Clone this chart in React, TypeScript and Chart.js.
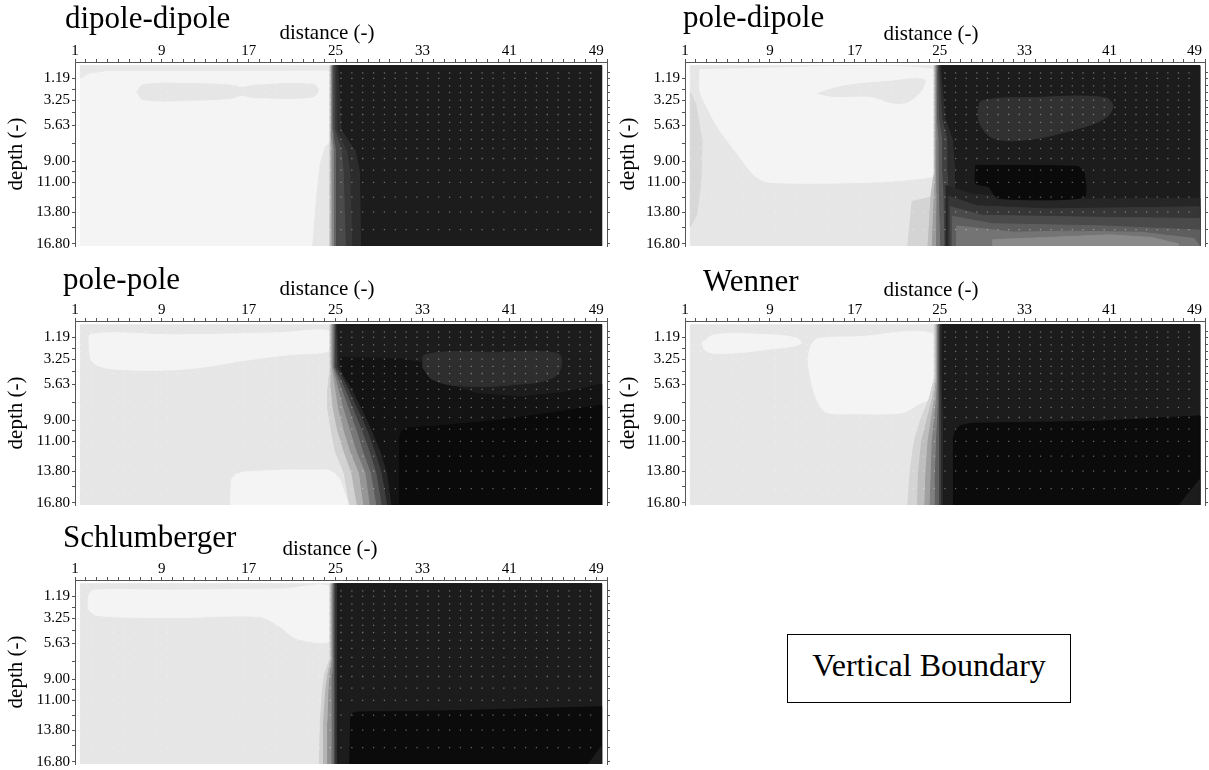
import React, { useEffect, useRef } from 'react';
import { Chart, registerables } from 'chart.js';

Chart.register(...registerables);

const SERIF = '"Liberation Serif", "Times New Roman", Times, serif';
Chart.defaults.font.family = SERIF;

// ---------- axes ----------
const xTickLabels = [1, 9, 17, 25, 33, 41, 49];
const depthTickLabels = [1.19, 3.25, 5.63, 9.0, 11.0, 13.8, 16.8];
const dataRowDepths = [0.68, 1.19, 1.9, 2.52, 3.25, 3.93, 4.6, 5.35, 6.1, 6.95, 7.8, 8.75, 9.85, 11.0, 12.4, 13.8, 15.45];
const dataColumnDistances = [
  1.5, 2.5, 3.5, 4.5, 5.5, 6.5, 7.5, 8.5, 9.5, 10.5, 11.5, 12.5, 13.5, 14.5, 15.5, 16.5,
  17.5, 18.5, 19.5, 20.5, 21.5, 22.5, 23.5, 24.5, 25.5, 26.5, 27.5, 28.5, 29.5, 30.5, 31.5, 32.5,
  33.5, 34.5, 35.5, 36.5, 37.5, 38.5, 39.5, 40.5, 41.5, 42.5, 43.5, 44.5, 45.5, 46.5, 47.5, 48.5,
];
const sectionExtent = [[1.5, 0], [49.5, 0], [49.5, 17], [1.5, 17]];

type Layer = { c: string; p: number[][]; t?: number };
type Band = { c: string; x: number[] };

// ---------- dipole-dipole ----------
const ddRegions: Layer[] = [
  { c: '#f4f4f4', p: sectionExtent },
  { c: '#e8e8e8', p: [[1.5, 0], [24.6, 0], [24.6, 0.4], [4, 0.45], [2.3, 0.7], [1.5, 1.2]] },
  { c: '#e6e6e6', t: 0.4, p: [[6.7, 2.5], [7.3, 1.8], [12, 1.7], [15.5, 1.85], [16.3, 2.05], [17.5, 1.85], [22.8, 1.75], [23.4, 2.3], [22.8, 2.95], [17.5, 3.0], [16.3, 2.8], [15.5, 3.05], [12, 3.25], [7.3, 3.2]] },
  { c: '#e6e6e6', p: [[24.6, 7.2], [24.1, 7.6], [23.6, 9.2], [23.3, 12], [22.9, 17], [24.6, 17]] },
];
const ddBandDepths = [0, 6, 7, 8, 10, 17];
const ddBands: Band[] = [
  { c: '#b4b4b4', x: [24.55, 24.55, 24.5, 24.5, 24.5, 24.5] },
  { c: '#8a8a8a', x: [24.65, 24.65, 24.65, 24.7, 24.7, 24.7] },
  { c: '#666666', x: [24.75, 24.75, 24.8, 24.9, 24.9, 24.9] },
  { c: '#4a4a4a', x: [24.85, 24.85, 24.95, 25.1, 25.1, 25.1] },
  { c: '#383838', x: [24.95, 25.0, 25.3, 25.6, 25.8, 26.0] },
  { c: '#2c2c2c', x: [25.1, 25.2, 25.6, 26.1, 26.4, 26.6] },
  { c: '#1c1c1c', x: [25.3, 25.6, 26.2, 26.9, 27.3, 27.4] },
];
const ddOver: Layer[] = [];

// ---------- pole-dipole ----------
const pdRegions: Layer[] = [
  { c: '#e6e6e6', p: sectionExtent },
  { c: '#d8d8d8', p: [[1.5, 2.5], [2.0, 3.6], [2.6, 7], [2.5, 11], [2.1, 14], [1.5, 15.2]] },
  { c: '#f4f4f4', t: 0.3, p: [[2.4, 0.35], [24.6, 0.35], [24.6, 10.2], [23.5, 10.6], [18, 11.0], [9, 11.0], [7.6, 10.4], [6, 8.4], [4.2, 6.0], [3.1, 4.0], [2.4, 2.4]] },
  { c: '#e6e6e6', t: 0.35, p: [[13.5, 2.6], [16, 1.9], [20, 1.5], [23.5, 1.3], [23.3, 2.3], [22, 3.4], [20.5, 3.5], [18.5, 2.9], [15, 2.9]] },
  { c: '#d4d4d4', p: [[22.4, 12.8], [24.6, 12.3], [24.6, 17], [22.0, 17]] },
];
const pdBandDepths = [0, 5, 7, 10, 12, 17];
const pdBands: Band[] = [
  { c: '#bcbcbc', x: [24.5, 24.5, 24.5, 24.5, 24.2, 23.9] },
  { c: '#9c9c9c', x: [24.6, 24.6, 24.6, 24.6, 24.5, 24.3] },
  { c: '#7a7a7a', x: [24.7, 24.7, 24.75, 24.75, 24.75, 24.7] },
  { c: '#5a5a5a', x: [24.8, 24.8, 24.95, 24.95, 25.0, 25.1] },
  { c: '#404040', x: [24.9, 25.0, 25.3, 25.3, 25.4, 25.5] },
  { c: '#2c2c2c', x: [25.0, 25.3, 25.8, 25.8, 25.9, 25.9] },
  { c: '#1c1c1c', x: [25.15, 25.6, 26.3, 26.5, 26.5, 26.5] },
];
const pdOver: Layer[] = [
  { c: '#262626', p: [[25.6, 11.3], [28, 12.1], [35, 12.6], [49.5, 12.5], [49.5, 17], [25.6, 17]] },
  { c: '#363636', p: [[25.8, 12.3], [28.5, 13.2], [35, 13.5], [49.5, 13.3], [49.5, 17], [25.8, 17]] },
  { c: '#4a4a4a', p: [[26.0, 13.3], [29, 14.1], [40, 14.3], [49.5, 14.4], [49.5, 17], [26.0, 17]] },
  { c: '#5e5e5e', p: [[26.2, 14.2], [30, 14.9], [40, 15.1], [49.5, 15.5], [49.5, 17], [26.2, 17]] },
  { c: '#747474', p: [[26.6, 15.1], [32, 15.7], [37, 15.6], [44, 15.7], [49, 16.3], [49.5, 17], [26.6, 17]] },
  { c: '#8a8a8a', p: [[30, 16.4], [35, 16.2], [41, 15.95], [45, 16.2], [47.5, 16.8], [47.5, 17], [30, 17]] },
  { c: '#313131', t: 0.4, p: [[28.6, 4.2], [29, 3.3], [34, 3.0], [40.5, 3.0], [41.3, 3.8], [40.5, 5.0], [37, 6.2], [33, 7.0], [30, 6.8], [28.8, 5.5]] },
  { c: '#0a0a0a', t: 0.2, p: [[28.4, 9.4], [38, 9.5], [38.6, 10.1], [38.6, 12.4], [30.5, 12.5], [29.6, 11.4], [28.4, 11.1]] },
];

// ---------- pole-pole ----------
const ppRegions: Layer[] = [
  { c: '#e6e6e6', p: sectionExtent },
  { c: '#f4f4f4', t: 0.35, p: [[2.3, 2.2], [2.5, 0.9], [10, 0.95], [20, 0.75], [24.3, 0.55], [24.5, 1.5], [24.3, 2.5], [21, 2.8], [17, 3.3], [12, 4.1], [8, 4.3], [4, 4.1], [2.6, 3.5]] },
  { c: '#f4f4f4', p: [[15.3, 17], [15.4, 14.6], [15.8, 14.1], [16.5, 13.9], [20, 13.7], [24.3, 13.7], [24.9, 14.0], [25.4, 14.6], [26.2, 17]] },
];
const ppBandDepths = [0, 4, 6, 8, 10, 12, 14, 17];
const ppBands: Band[] = [
  { c: '#d2d2d2', x: [24.5, 24.5, 24.3, 24.3, 24.6, 25.0, 25.8, 26.3] },
  { c: '#b4b4b4', x: [24.6, 24.6, 24.6, 24.8, 25.2, 25.8, 26.5, 27.0] },
  { c: '#969696', x: [24.7, 24.7, 25.0, 25.3, 25.8, 26.4, 27.2, 27.6] },
  { c: '#787878', x: [24.8, 24.8, 25.3, 25.8, 26.4, 27.0, 27.8, 28.2] },
  { c: '#5a5a5a', x: [24.9, 24.9, 25.6, 26.3, 27.0, 27.6, 28.3, 28.8] },
  { c: '#3e3e3e', x: [25.0, 25.0, 25.9, 26.7, 27.5, 28.2, 28.8, 29.3] },
  { c: '#262626', x: [25.1, 25.2, 26.2, 27.1, 28.0, 28.7, 29.3, 29.8] },
  { c: '#1c1c1c', x: [25.2, 25.4, 26.5, 27.5, 28.4, 29.2, 29.8, 30.2] },
];
const ppOver: Layer[] = [
  { c: '#131313', p: [[25.4, 3.1], [31, 3.2], [33, 3.6], [34, 4.8], [35.5, 5.7], [38, 6.5], [42, 6.8], [46, 6.4], [49.5, 5.6], [49.5, 17], [30.2, 17], [29.8, 14], [29.2, 12], [28.4, 10], [27.5, 8], [26.5, 6], [25.6, 4.5]] },
  { c: '#2e2e2e', t: 0.4, p: [[33, 4.0], [33.3, 2.8], [40, 2.6], [45.4, 2.7], [45.8, 3.8], [45, 5.0], [42, 5.6], [37, 5.8], [34, 5.2]] },
  { c: '#0a0a0a', p: [[30.9, 17], [30.9, 10.6], [31.1, 10.0], [31.6, 9.75], [35, 9.5], [40, 9.0], [45, 8.3], [49.5, 7.6], [49.5, 17]] },
];

// ---------- Wenner ----------
const wnRegions: Layer[] = [
  { c: '#e6e6e6', p: sectionExtent },
  { c: '#f4f4f4', t: 0.4, p: [[2.6, 1.7], [3.8, 0.95], [8, 0.9], [11.5, 1.25], [11.9, 1.8], [9, 2.3], [5, 2.7], [3, 2.5]] },
  { c: '#f4f4f4', t: 0.3, p: [[12.8, 2.0], [13.5, 1.3], [17, 1.15], [24.6, 1.0], [24.6, 6.5], [23, 7.5], [21.5, 8.3], [17, 8.4], [14.2, 8.2], [13.2, 6.5], [12.6, 3.5]] },
];
const wnBandDepths = [0, 5, 7, 9, 11, 14, 17];
const wnBands: Band[] = [
  { c: '#d4d4d4', x: [24.5, 24.5, 24.0, 23.2, 22.6, 22.2, 22.0] },
  { c: '#bebebe', x: [24.6, 24.6, 24.3, 23.8, 23.3, 23.0, 22.9] },
  { c: '#a0a0a0', x: [24.7, 24.7, 24.5, 24.2, 23.9, 23.7, 23.6] },
  { c: '#808080', x: [24.8, 24.8, 24.7, 24.5, 24.3, 24.2, 24.1] },
  { c: '#606060', x: [24.9, 24.9, 24.85, 24.8, 24.7, 24.6, 24.6] },
  { c: '#404040', x: [25.0, 25.0, 25.0, 25.0, 25.0, 25.0, 25.0] },
  { c: '#2a2a2a', x: [25.1, 25.1, 25.15, 25.2, 25.2, 25.2, 25.2] },
  { c: '#1c1c1c', x: [25.25, 25.25, 25.3, 25.4, 25.4, 25.4, 25.4] },
];
const wnOver: Layer[] = [
  { c: '#0b0b0b', p: [[26.3, 17], [26.3, 10.6], [26.5, 9.9], [27.0, 9.5], [28, 9.3], [40, 9.1], [49.5, 8.6], [49.5, 17]] },
  { c: '#1c1c1c', p: [[49.5, 14.6], [48.2, 16.2], [47.6, 17], [49.5, 17]] },
];

// ---------- Schlumberger ----------
const scRegions: Layer[] = [
  { c: '#e6e6e6', p: sectionExtent },
  { c: '#f4f4f4', t: 0.3, p: [[2.2, 2.4], [2.3, 1.0], [2.8, 0.6], [10, 0.6], [20, 0.5], [24.6, 0.4], [24.6, 5.3], [21.5, 5.2], [19.8, 4.0], [18, 3.1], [10, 3.2], [3, 3.0]] },
];
const scBandDepths = [0, 7, 8.5, 10, 13, 17];
const scBands: Band[] = [
  { c: '#d2d2d2', x: [24.5, 24.5, 24.0, 23.8, 23.6, 23.5] },
  { c: '#b4b4b4', x: [24.6, 24.6, 24.3, 24.1, 23.9, 23.9] },
  { c: '#909090', x: [24.7, 24.7, 24.5, 24.4, 24.3, 24.3] },
  { c: '#6c6c6c', x: [24.8, 24.8, 24.75, 24.7, 24.7, 24.7] },
  { c: '#484848', x: [24.9, 24.9, 24.9, 24.9, 24.9, 24.9] },
  { c: '#303030', x: [25.05, 25.05, 25.05, 25.05, 25.05, 25.05] },
  { c: '#1c1c1c', x: [25.2, 25.2, 25.2, 25.2, 25.2, 25.2] },
];
const scOver: Layer[] = [
  { c: '#0b0b0b', p: [[26.3, 17], [26.4, 12.6], [26.6, 12.2], [27.0, 12.1], [35, 12.0], [49.5, 11.6], [49.5, 17]] },
  { c: '#1c1c1c', p: [[49.5, 15.3], [48.3, 17], [49.5, 17]] },
];

type PanelDef = {
  id: string; title: string; left: number; top: number; w: number; yW: number; y2W: number;
  titleX: number; titleY: number; axisX: number; axisY: number;
  regions: Layer[]; bandDepths: number[]; bands: Band[]; over: Layer[];
};

const panels: PanelDef[] = [
  { id: 'dd', title: 'dipole-dipole', left: 0, top: -30, w: 612, yW: 75, y2W: 5, titleX: 65, titleY: 58, axisX: 327, axisY: 69, regions: ddRegions, bandDepths: ddBandDepths, bands: ddBands, over: ddOver },
  { id: 'pd', title: 'pole-dipole', left: 612, top: -30, w: 597, yW: 73, y2W: 2, titleX: 71, titleY: 57, axisX: 319, axisY: 70, regions: pdRegions, bandDepths: pdBandDepths, bands: pdBands, over: pdOver },
  { id: 'pp', title: 'pole-pole', left: 0, top: 229, w: 612, yW: 75, y2W: 5, titleX: 63, titleY: 60, axisX: 327, axisY: 66, regions: ppRegions, bandDepths: ppBandDepths, bands: ppBands, over: ppOver },
  { id: 'wn', title: 'Wenner', left: 612, top: 229, w: 597, yW: 73, y2W: 2, titleX: 91, titleY: 62, axisX: 319, axisY: 67, regions: wnRegions, bandDepths: wnBandDepths, bands: wnBands, over: wnOver },
  { id: 'sc', title: 'Schlumberger', left: 0, top: 488, w: 612, yW: 75, y2W: 5, titleX: 63, titleY: 59, axisX: 330, axisY: 67, regions: scRegions, bandDepths: scBandDepths, bands: scBands, over: scOver },
];

const CANVAS_H = 289;

function polygonDataset(color: string, pts: number[][], tension = 0) {
  const closed = [...pts, pts[0]];
  return {
    data: closed.map(([x, y]) => ({ x, y })),
    showLine: true,
    fill: 'shape',
    backgroundColor: color,
    borderColor: color,
    borderWidth: 1,
    pointRadius: 0,
    tension,
    xAxisID: 'x',
    yAxisID: 'y',
  } as any;
}

function buildDatasets(p: PanelDef) {
  const ds: any[] = [];
  p.regions.forEach((r) => ds.push(polygonDataset(r.c, r.p, r.t || 0)));
  p.bands.forEach((b) => {
    const pts = p.bandDepths.map((d, i) => [b.x[i], d]);
    pts.push([49.5, 17], [49.5, 0]);
    ds.push(polygonDataset(b.c, pts, 0));
  });
  p.over.forEach((r) => ds.push(polygonDataset(r.c, r.p, r.t || 0)));
  const dots: { x: number; y: number }[] = [];
  dataRowDepths.forEach((d) => dataColumnDistances.forEach((x) => dots.push({ x, y: d })));
  ds.push({
    data: dots,
    showLine: false,
    fill: false,
    pointRadius: 0.9,
    pointStyle: 'rect',
    pointBackgroundColor: 'rgba(255,255,255,0.38)',
    pointBorderWidth: 0,
    borderWidth: 0,
    xAxisID: 'x',
    yAxisID: 'y',
  });
  const n = ds.length;
  ds.forEach((d, i) => (d.order = n - i));
  return ds;
}

const panelText = {
  id: 'panelText',
  afterDraw(chart: any, _args: any, opts: any) {
    const ctx = chart.ctx;
    ctx.save();
    ctx.fillStyle = '#000';
    ctx.textBaseline = 'alphabetic';
    ctx.textAlign = 'left';
    ctx.font = `31px ${SERIF}`;
    ctx.fillText(opts.title, opts.titleX, opts.titleY);
    ctx.textAlign = 'center';
    ctx.font = `21px ${SERIF}`;
    ctx.fillText('distance (-)', opts.axisX, opts.axisY);
    ctx.restore();
  },
};

const AXIS_COLOR = '#555';

function makeConfig(p: PanelDef): any {
  const yMinor = depthTickLabels.slice(1).map((v, i) => (v + depthTickLabels[i]) / 2);
  return {
    type: 'line',
    data: { datasets: buildDatasets(p) },
    options: {
      animation: false,
      responsive: false,
      devicePixelRatio: 1,
      events: [],
      layout: { padding: { left: 0, right: 0, top: 30, bottom: 13 } },
      plugins: {
        legend: { display: false },
        tooltip: { enabled: false },
        title: { display: false },
        panelText: { title: p.title, titleX: p.titleX, titleY: p.titleY, axisX: p.axisX, axisY: p.axisY },
      },
      scales: {
        x: {
          type: 'linear',
          position: 'top',
          min: 1,
          max: 50,
          afterBuildTicks: (s: any) => {
            const t = [];
            for (let v = 1; v <= 50; v++) t.push({ value: v });
            s.ticks = t;
          },
          afterFit: (s: any) => { s.height = 62; },
          ticks: {
            autoSkip: false,
            maxRotation: 0,
            minRotation: 0,
            padding: 0,
            color: '#000',
            font: { family: SERIF, size: 15, lineHeight: 1 },
            callback: (v: number) => (xTickLabels.includes(v) ? String(v) : ''),
          },
          grid: { drawOnChartArea: false, tickLength: 3, color: AXIS_COLOR, tickColor: AXIS_COLOR },
          border: { display: true, color: AXIS_COLOR, width: 1 },
        },
        y: {
          type: 'linear',
          position: 'left',
          reverse: true,
          min: -0.35,
          max: 17,
          afterBuildTicks: (s: any) => {
            s.ticks = [...depthTickLabels, ...yMinor].sort((a, b) => a - b).map((v) => ({ value: v }));
          },
          afterFit: (s: any) => { s.width = p.yW; },
          ticks: {
            autoSkip: false,
            padding: 2,
            color: '#000',
            font: { family: SERIF, size: 15, lineHeight: 1 },
            callback: (v: number) => (depthTickLabels.includes(v) ? v.toFixed(2) : ''),
          },
          title: {
            display: true,
            text: 'depth (-)',
            color: '#000',
            font: { family: SERIF, size: 21 },
            padding: { top: 4, bottom: 0 },
          },
          grid: { drawOnChartArea: false, tickLength: 3, color: AXIS_COLOR, tickColor: AXIS_COLOR },
          border: { display: true, color: AXIS_COLOR, width: 1 },
        },
        y2: {
          type: 'linear',
          position: 'right',
          reverse: true,
          min: -0.35,
          max: 17,
          afterBuildTicks: (s: any) => {
            s.ticks = [...dataRowDepths, 16.8].map((v) => ({ value: v }));
          },
          afterFit: (s: any) => { s.width = p.y2W; },
          ticks: { display: false },
          grid: { drawOnChartArea: false, tickLength: 3, color: AXIS_COLOR, tickColor: AXIS_COLOR },
          border: { display: true, color: AXIS_COLOR, width: 1 },
        },
      },
    },
    plugins: [panelText],
  };
}

function Panel({ p }: { p: PanelDef }) {
  const ref = useRef<HTMLCanvasElement>(null);
  useEffect(() => {
    if (!ref.current) return;
    const chart = new Chart(ref.current, makeConfig(p));
    return () => chart.destroy();
  }, [p]);
  return (
    <canvas
      ref={ref}
      width={p.w}
      height={CANVAS_H}
      style={{ position: 'absolute', left: p.left, top: p.top, width: p.w, height: CANVAS_H }}
    />
  );
}

export default function App() {
  return (
    <div style={{ position: 'absolute', left: 0, top: 0, width: 1209, height: 770, overflow: 'hidden', background: '#fff' }}>
      {panels.map((p) => (
        <Panel key={p.id} p={p} />
      ))}
      <div
        style={{
          position: 'absolute',
          left: 787,
          top: 634,
          width: 284,
          height: 69,
          boxSizing: 'border-box',
          border: '1.5px solid #000',
          display: 'flex',
          alignItems: 'center',
          justifyContent: 'center',
          fontFamily: SERIF,
          fontSize: 32,
          color: '#000',
          paddingBottom: 6,
        }}
      >
        Vertical Boundary
      </div>
    </div>
  );
}
